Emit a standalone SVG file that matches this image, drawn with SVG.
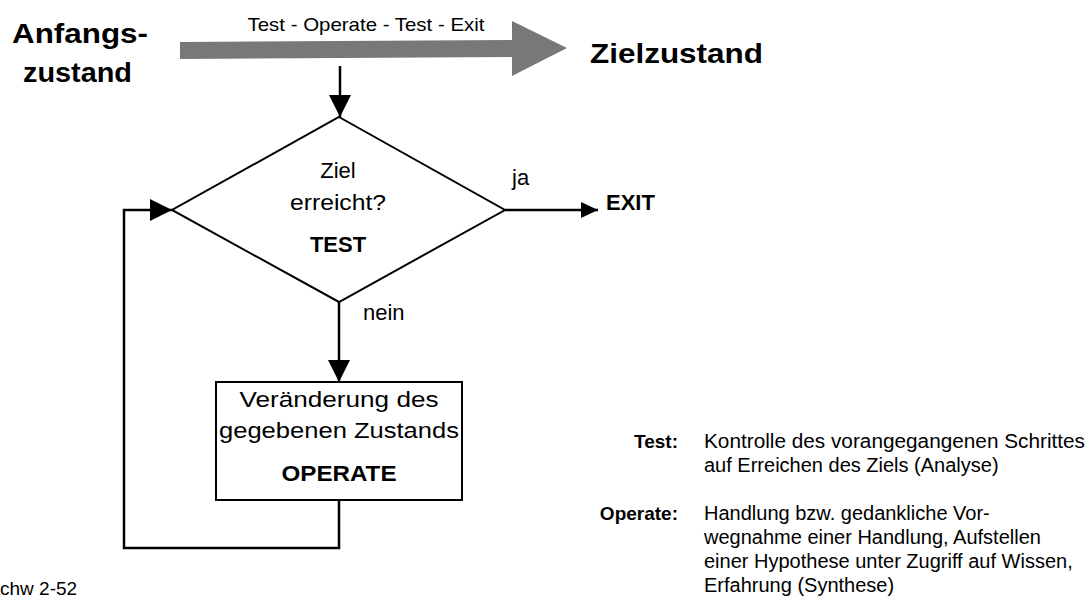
<svg xmlns="http://www.w3.org/2000/svg" width="1090" height="600" viewBox="0 0 1090 600">
  <defs>
    <marker id="arrow" viewBox="0 0 22 22" refX="22" refY="11" markerWidth="22" markerHeight="22" markerUnits="userSpaceOnUse" orient="auto">
      <path d="M0,0 L22,11 L0,22 Z" fill="#000"/>
    </marker>
    <marker id="arrowSmall" viewBox="0 0 17 16" refX="17" refY="8" markerWidth="17" markerHeight="16" markerUnits="userSpaceOnUse" orient="auto">
      <path d="M0,0 L17,8 L0,16 Z" fill="#000"/>
    </marker>
    <style>
      text { font-family: "Liberation Sans", Arial, sans-serif; fill: #000; }
      .big { font-size: 27px; font-weight: bold; }
      .lbl { font-size: 22px; }
      .lblb { font-size: 22px; font-weight: bold; }
      .body { font-size: 20px; }
      .term { font-size: 19px; font-weight: bold; text-anchor: end; }
      .mid { text-anchor: middle; }
      .shape { fill: #fff; stroke: #000; stroke-width: 2; }
      .conn { fill: none; stroke: #000; stroke-width: 2.5; }
    </style>
  </defs>

  <!-- overall progression: start state to goal state -->
  <g id="progress">
    <polygon points="180,42 512,40 512,21 567,48 512,76 512,57 180,59" fill="#787878"/>
    <text x="366" y="31" font-size="19" text-anchor="middle" textLength="237" lengthAdjust="spacingAndGlyphs">Test - Operate - Test - Exit</text>
  </g>

  <g id="start">
    <text class="big" x="12" y="43" textLength="136" lengthAdjust="spacingAndGlyphs">Anfangs-</text>
    <text class="big" x="23" y="82" textLength="109" lengthAdjust="spacingAndGlyphs">zustand</text>
  </g>

  <g id="goal">
    <text class="big" x="590" y="63" textLength="173" lengthAdjust="spacingAndGlyphs">Zielzustand</text>
  </g>

  <!-- connectors -->
  <g id="connectors">
    <line class="conn" x1="340" y1="66" x2="340" y2="117" marker-end="url(#arrow)"/>
    <line class="conn" x1="339" y1="302" x2="339" y2="382" marker-end="url(#arrow)"/>
    <polyline class="conn" points="339,500 339,548 124,548 124,210 172,210" marker-end="url(#arrow)"/>
    <line class="conn" x1="505" y1="210" x2="598" y2="210" marker-end="url(#arrowSmall)"/>
    <text class="lbl" x="512" y="185">ja</text>
    <text class="lbl" x="363" y="320">nein</text>
  </g>

  <g id="test">
    <polygon class="shape" points="339,117 505,210 339,302 172,210"/>
    <text class="lbl mid" x="338" y="178">Ziel</text>
    <text class="lbl mid" x="338" y="210" textLength="96" lengthAdjust="spacingAndGlyphs">erreicht?</text>
    <text class="lblb mid" x="338" y="252">TEST</text>
  </g>

  <g id="exit">
    <text class="lblb" x="606" y="210">EXIT</text>
  </g>

  <g id="operate">
    <rect class="shape" x="216" y="382" width="246" height="118"/>
    <text class="lbl mid" x="339" y="407" textLength="199" lengthAdjust="spacingAndGlyphs">Veränderung des</text>
    <text class="lbl mid" x="339" y="438" textLength="240" lengthAdjust="spacingAndGlyphs">gegebenen Zustands</text>
    <text class="lblb mid" x="339" y="481" textLength="115" lengthAdjust="spacingAndGlyphs">OPERATE</text>
  </g>

  <!-- legend -->
  <g id="legend">
    <text class="term" x="678" y="448">Test:</text>
    <text class="body" x="704" y="448" textLength="381" lengthAdjust="spacingAndGlyphs">Kontrolle des vorangegangenen Schrittes</text>
    <text class="body" x="704" y="472">auf Erreichen des Ziels (Analyse)</text>
    <text class="term" x="678" y="520">Operate:</text>
    <text class="body" x="704" y="520">Handlung bzw. gedankliche Vor-</text>
    <text class="body" x="704" y="544">wegnahme einer Handlung, Aufstellen</text>
    <text class="body" x="704" y="568">einer Hypothese unter Zugriff auf Wissen,</text>
    <text class="body" x="704" y="592">Erfahrung (Synthese)</text>
  </g>

  <g id="source">
    <text x="0" y="595" font-size="19">chw 2-52</text>
  </g>
</svg>
